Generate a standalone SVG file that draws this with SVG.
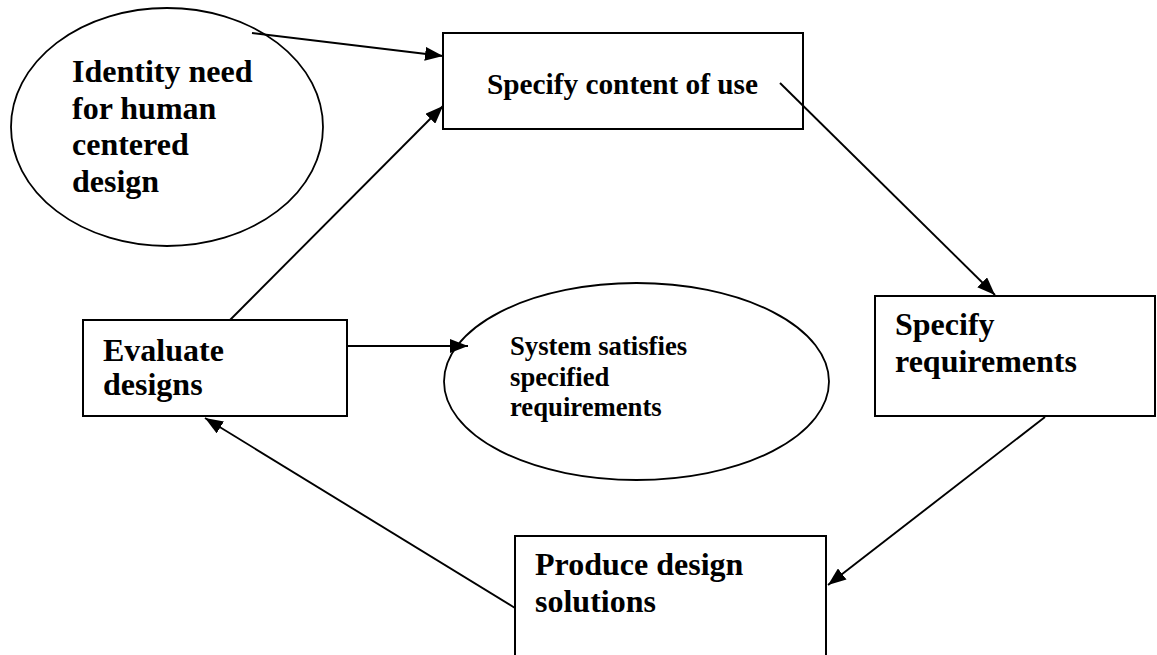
<svg xmlns="http://www.w3.org/2000/svg" width="1157" height="655" viewBox="0 0 1157 655">
  <style>
    .shape { fill: #ffffff; stroke: #000000; stroke-width: 2; }
    .oval { fill: #ffffff; stroke: #000000; stroke-width: 1.8; }
    .link { fill: none; stroke: #000000; stroke-width: 1.9; marker-end: url(#head); }
    .big { font-family: "Liberation Serif", "Times New Roman", serif; font-weight: bold; font-size: 32px; fill: #000000; }
    .mid { font-family: "Liberation Serif", "Times New Roman", serif; font-weight: bold; font-size: 29.3px; fill: #000000; }
    .small { font-family: "Liberation Serif", "Times New Roman", serif; font-weight: bold; font-size: 26.7px; fill: #000000; }
  </style>
  <defs>
    <marker id="head" markerUnits="userSpaceOnUse" markerWidth="18" markerHeight="14" refX="18" refY="7" orient="auto">
      <path d="M0,0 L18,7 L0,14 z" fill="#000000"/>
    </marker>
  </defs>
  <rect width="1157" height="655" fill="#ffffff"/>

  <!-- process nodes -->
  <g id="identify-need">
    <ellipse class="oval" cx="167" cy="127" rx="156" ry="119"/>
    <text class="big" x="72" y="82">Identity need</text>
    <text class="big" x="72" y="118.5">for human</text>
    <text class="big" x="72" y="155">centered</text>
    <text class="big" x="72" y="191.5">design</text>
  </g>

  <g id="specify-context">
    <rect class="shape" x="443" y="33" width="360" height="96"/>
    <text class="mid" x="487" y="93.5">Specify content of use</text>
  </g>

  <g id="specify-requirements">
    <rect class="shape" x="875" y="296" width="280" height="120"/>
    <text class="big" x="895" y="335">Specify</text>
    <text class="big" x="895" y="372">requirements</text>
  </g>

  <g id="produce-solutions">
    <rect class="shape" x="515" y="536" width="311" height="130"/>
    <text class="big" x="535" y="575">Produce design</text>
    <text class="big" x="535" y="612">solutions</text>
  </g>

  <g id="evaluate-designs">
    <rect class="shape" x="83" y="320" width="264" height="96"/>
    <text class="big" x="103" y="360.5">Evaluate</text>
    <text class="big" x="103" y="395">designs</text>
  </g>

  <g id="system-satisfies">
    <ellipse class="oval" cx="636.5" cy="381.5" rx="192.5" ry="98.5"/>
    <text class="small" x="510" y="355">System satisfies</text>
    <text class="small" x="510" y="385.5">specified</text>
    <text class="small" x="510" y="416">requirements</text>
  </g>

  <!-- connectors -->
  <g id="connectors">
    <line class="link" x1="252" y1="33" x2="443" y2="56"/>
    <line class="link" x1="780" y1="83" x2="995" y2="295"/>
    <line class="link" x1="1045" y1="417" x2="828" y2="585"/>
    <line class="link" x1="515" y1="608" x2="205" y2="418"/>
    <line class="link" x1="230" y1="320" x2="443" y2="106"/>
    <line class="link" x1="347" y1="346" x2="468" y2="346"/>
  </g>
</svg>
